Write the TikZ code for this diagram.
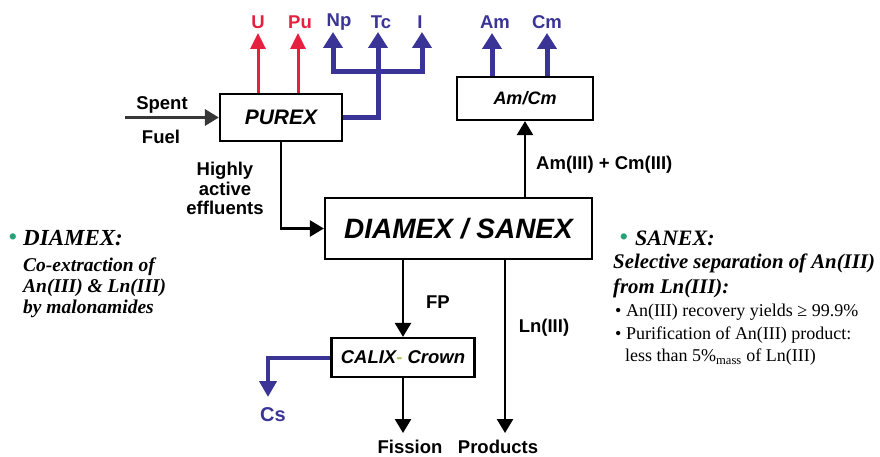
\documentclass[tikz,border=0pt]{standalone}
\usepackage{fontspec}
\setmainfont{Liberation Serif}
\setsansfont{Liberation Sans}
\usetikzlibrary{arrows.meta}
\definecolor{pred}{RGB}{232,32,64}
\definecolor{pblue}{RGB}{58,52,150}
\definecolor{pgreen}{RGB}{40,160,120}
\definecolor{pgray}{RGB}{55,55,55}
\definecolor{pdash}{RGB}{185,195,110}
\newcommand{\fsz}[1]{\fontsize{#1}{#1}\selectfont}
\begin{document}
\begin{tikzpicture}[x=1pt,y=-1pt,
  box/.style={draw,line width=2.2pt,inner sep=0pt,font=\sffamily\bfseries\itshape},
  lab/.style={font=\sffamily\bfseries\fsz{18.5},inner sep=1pt},
  redlab/.style={lab,text=pred},
  bluelab/.style={lab,text=pblue},
  note/.style={font=\bfseries\itshape\fsz{20.8},inner sep=0pt,anchor=west,align=left},
  notehead/.style={font=\bfseries\itshape\fsz{22},inner sep=0pt,anchor=west},
  plain/.style={font=\fsz{18},inner sep=0pt,anchor=west},
  dot/.style={font=\fsz{26},text=pgreen,inner sep=0pt},
  blk/.style={line width=2.5pt,-{Triangle[length=14pt,width=16pt]}},
  redarr/.style={pred,line width=3pt,-{Triangle[length=16pt,width=15pt]}},
  bluearr/.style={pblue,line width=5pt,-{Triangle[length=16pt,width=19pt]}},
  bluebar/.style={pblue,line width=5pt,{Triangle[length=16pt,width=19pt]}-{Triangle[length=16pt,width=19pt]}},
]
\useasboundingbox (0,0) rectangle (880,457);

% boxes
\node[box,minimum width=122pt,minimum height=47pt,font=\sffamily\bfseries\itshape\fsz{21}] (purex) at (281,117.5) {PUREX};
\node[box,minimum width=136pt,minimum height=43pt,font=\sffamily\bfseries\itshape\fsz{18}] (amcm) at (525,98.5) {Am/Cm};
\node[box,minimum width=267pt,minimum height=61pt,font=\sffamily\bfseries\itshape\fsz{28}] (diamex) at (458.5,228.5) {DIAMEX / SANEX};
\node[box,minimum width=143pt,minimum height=39pt,font=\sffamily\bfseries\itshape\fsz{18.5}] (calix) at (403,357.5) {CALIX\textcolor{pdash}{-} Crown};

% top labels
\node[redlab] (U) at (258,22) {U};
\node[redlab] (Pu) at (300,22) {Pu};
\node[bluelab] (Np) at (339,22) {Np};
\node[bluelab] (Tc) at (381,22) {Tc};
\node[bluelab] (I) at (420,22) {I};
\node[bluelab] (Am) at (495,22) {Am};
\node[bluelab] (Cm) at (547,22) {Cm};

% other labels
\node[lab] (spent) at (162,105) {Spent};
\node[lab] (fuel) at (161,137) {Fuel};
\node[lab,align=center,font=\sffamily\bfseries\fontsize{18.5}{19.5}\selectfont] (hae) at (225,188.5) {Highly\\active\\effluents};
\node[lab,anchor=west] (amcmlab) at (535,165) {Am(III) + Cm(III)};
\node[lab] (fp) at (438,302) {FP};
\node[lab] (ln) at (544,328) {Ln(III)};
\node[lab] (fission) at (410,447) {Fission};
\node[lab] (products) at (498,447) {Products};
\node[bluelab,font=\sffamily\bfseries\fsz{20}] (cs) at (273,415) {Cs};

% arrow tips
\coordinate (sf) at (125,117.5);
\coordinate (uT) at (258,33);
\coordinate (puT) at (298,33);
\coordinate (npT) at (333,32);
\coordinate (tcT) at (378,32);
\coordinate (iT) at (422,32);
\coordinate (bar) at (0,72);
\coordinate (amT) at (492,33);
\coordinate (cmT) at (547,33);
\coordinate (lnT) at (505,433);
\coordinate (fiT) at (403,433);
\coordinate (csT) at (268,397);

% connectors
\draw[blk,pgray,line width=3.2pt] (sf) -- (purex.west);
\draw[redarr] (purex.north -| uT) -- (uT);
\draw[redarr] (purex.north -| puT) -- (puT);
\draw[bluearr] (purex.east) -| (tcT);
\draw[bluebar] (npT) -- (npT |- bar) -- (iT |- bar) -- (iT);
\draw[bluearr] (amcm.north -| amT) -- (amT);
\draw[bluearr] (amcm.north -| cmT) -- (cmT);
\draw[blk] (purex.south) |- (diamex.west);
\draw[blk] (amcm.south |- diamex.north) -- (amcm.south);
\draw[blk] (calix.north |- diamex.south) -- (calix.north);
\draw[blk] (lnT |- diamex.south) -- (lnT);
\draw[blk] (calix.south) -- (fiT);
\draw[pblue,line width=4pt,-{Triangle[length=16pt,width=17pt]}] (calix.west) -| (csT);

% left notes
\node[dot] (dotl) at (13,240) {•};
\node[notehead,font=\bfseries\itshape\fsz{23}] (dhead) at (23,238) {DIAMEX:};
\node[note,font=\bfseries\itshape\fontsize{19.5}{21}\selectfont] (dbody) at (23,288) {Co-extraction of\\An(III) \& Ln(III)\\by malonamides};

% right notes
\node[dot] (dotr) at (624,240) {•};
\node[notehead] (shead) at (635,238) {SANEX:};
\node[note] (s1) at (613,263) {Selective separation of An(III)};
\node[note] (s2) at (613,288) {from Ln(III):};
\node[plain] (s3) at (615,312) {• An(III) recovery yields ≥ 99.9\%};
\node[plain] (s4) at (615,335) {• Purification of An(III) product:};
\node[plain] (s5) at (625,357) {less than 5\%\textsubscript{mass} of Ln(III)};
\end{tikzpicture}
\end{document}
